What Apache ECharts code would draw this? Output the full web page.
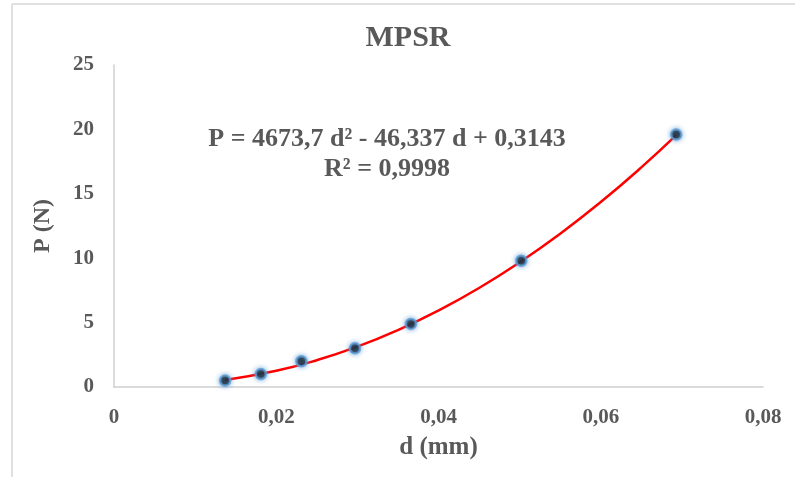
<!DOCTYPE html>
<html>
<head>
<meta charset="utf-8">
<script src="https://cdn.jsdelivr.net/npm/echarts@6/dist/echarts.min.js"></script>
<style>
html,body{margin:0;padding:0;background:#fff;}
#chart{width:795px;height:477px;}
</style>
</head>
<body>
<div id="chart"></div>
<script>
// Measured data points (d in mm, P in N)
var dValues = [0.0137, 0.0181, 0.0231, 0.0297, 0.0366, 0.0502, 0.0693];
var pValues = [0.5, 1.0, 2.0, 3.0, 4.9, 9.8, 19.6];
// Trend curve
var curveD = [0.0137, 0.02, 0.025, 0.03, 0.035, 0.04, 0.045, 0.05, 0.055, 0.06, 0.065, 0.0693];
var curveP = [0.55, 1.26, 2.08, 3.13, 4.42, 5.94, 7.69, 9.68, 11.90, 14.36, 17.05, 19.55];
var titleText = 'MPSR';
var xName = 'd (mm)';
var yName = 'P (N)';
var equationLine1 = 'P = 4673,7 d² - 46,337 d + 0,3143';
var equationLine2 = 'R² = 0,9998';

var pts = dValues.map(function (d, i) { return [d, pValues[i]]; });
var curve = curveD.map(function (d, i) { return [d, curveP[i]]; });

var font = 'Liberation Serif';
var grey = '#595959';

var chart = echarts.init(document.getElementById('chart'));
chart.setOption({
  animation: false,
  backgroundColor: '#fff',
  grid: { left: 114, right: 32, top: 65, bottom: 90 },
  xAxis: {
    type: 'value',
    min: 0, max: 0.08, interval: 0.02,
    name: xName,
    nameLocation: 'middle',
    nameGap: 61,
    nameTextStyle: { fontFamily: font, fontWeight: 'bold', fontSize: 25, color: grey, verticalAlign: 'middle' },
    axisLine: { show: true, lineStyle: { color: '#d0d0d0', width: 1.5 } },
    axisTick: { show: false },
    splitLine: { show: false },
    axisLabel: {
      margin: 20,
      fontFamily: font, fontWeight: 'bold', fontSize: 21, color: grey,
      formatter: function (v) { return v === 0 ? '0' : v.toFixed(2).replace('.', ','); }
    }
  },
  yAxis: {
    type: 'value',
    min: 0, max: 25, interval: 5,
    name: yName,
    nameLocation: 'middle',
    nameGap: 71,
    nameRotate: 90,
    nameTextStyle: { fontFamily: font, fontWeight: 'bold', fontSize: 24, color: grey, verticalAlign: 'middle' },
    axisLine: { show: true, lineStyle: { color: '#d0d0d0', width: 1.5 } },
    axisTick: { show: false },
    splitLine: { show: false },
    axisLabel: {
      margin: 20,
      fontFamily: font, fontWeight: 'bold', fontSize: 21, color: grey
    }
  },
  graphic: [
    { type: 'line', shape: { x1: 12, y1: 4, x2: 795, y2: 4 }, style: { stroke: '#d6d6d6', lineWidth: 1.5 }, silent: true },
    { type: 'line', shape: { x1: 12, y1: 4, x2: 12, y2: 477 }, style: { stroke: '#d6d6d6', lineWidth: 1.5 }, silent: true },
    {
      type: 'text', x: 408, y: 38,
      style: {
        text: titleText, align: 'center', verticalAlign: 'middle',
        fontFamily: font, fontWeight: 'bold', fontSize: 30, fill: grey
      }
    },
    {
      type: 'text', x: 387, y: 139,
      style: {
        text: equationLine1, align: 'center', verticalAlign: 'middle',
        fontFamily: font, fontWeight: 'bold', fontSize: 26, fill: grey
      }
    },
    {
      type: 'text', x: 387, y: 169,
      style: {
        text: equationLine2, align: 'center', verticalAlign: 'middle',
        fontFamily: font, fontWeight: 'bold', fontSize: 26, fill: grey
      }
    }
  ],
  series: [
    {
      type: 'line',
      data: curve,
      smooth: true,
      showSymbol: false,
      lineStyle: { color: '#ff0000', width: 2.5 },
      z: 2
    },
    {
      type: 'scatter',
      data: pts,
      symbolSize: 10,
      itemStyle: { color: '#000', borderColor: '#5b9bd5', borderWidth: 2.5, shadowBlur: 5, shadowColor: 'rgba(91,155,213,0.9)' },
      z: 3
    }
  ]
});
</script>
</body>
</html>
